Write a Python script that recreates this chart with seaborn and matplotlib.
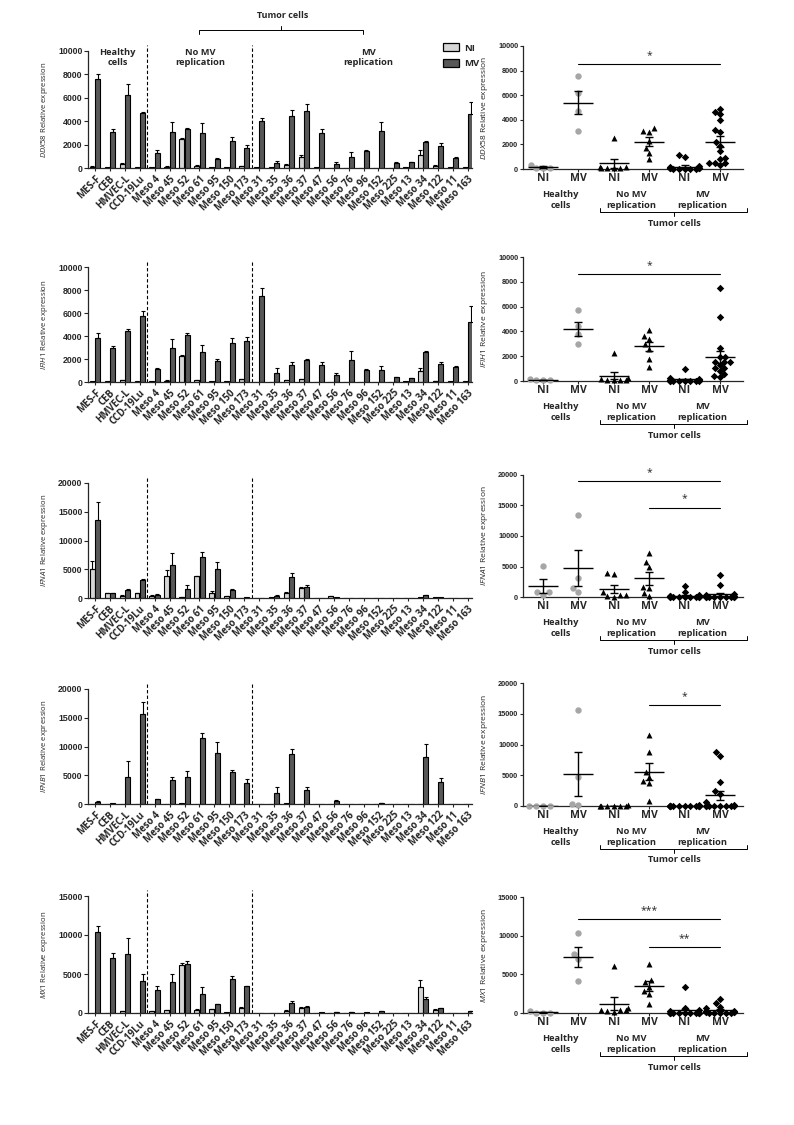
import numpy as np
import pandas as pd
import seaborn as sns
import matplotlib
matplotlib.use('Agg')
from matplotlib import pyplot as plt
from matplotlib import transforms
from matplotlib.patches import Patch

# cell lines, in the order of the bar charts
cell_lines = ['MES-F', 'CEB', 'HMVEC-L', 'CCD-19Lu', 'Meso 4', 'Meso 45', 'Meso 52', 'Meso 61',
              'Meso 95', 'Meso 150', 'Meso 173', 'Meso 31', 'Meso 35', 'Meso 36', 'Meso 37',
              'Meso 47', 'Meso 56', 'Meso 76', 'Meso 96', 'Meso 152', 'Meso 225', 'Meso 13',
              'Meso 34', 'Meso 122', 'Meso 11', 'Meso 163']
cell_group = ['Healthy'] * 4 + ['NoRep'] * 7 + ['Rep'] * 15

genes = ['DDX58', 'IFIH1', 'IFNA1', 'IFNB1', 'MX1']

ddx58_ni = [100, 50, 350, 50, 50, 100, 2500, 200, 100, 50, 150, 50, 50, 250, 950, 50, 30, 30, 30, 30, 30, 100, 1100, 200, 50, 50]
ddx58_ni_err = [30, 0, 50, 0, 0, 30, 100, 50, 0, 0, 50, 0, 0, 80, 150, 0, 0, 0, 0, 0, 0, 0, 400, 50, 0, 0]
ddx58_mv = [7600, 3100, 6200, 4700, 1300, 3100, 3300, 3000, 800, 2300, 1700, 4000, 450, 4450, 4900, 3000, 350, 900, 1450, 3200, 450, 500, 2200, 1900, 850, 4600]
ddx58_mv_err = [400, 200, 1000, 100, 200, 800, 150, 850, 50, 350, 250, 250, 150, 500, 600, 350, 150, 450, 100, 750, 100, 50, 100, 250, 50, 1000]

ifih1_ni = [50, 50, 150, 50, 80, 120, 2250, 150, 100, 50, 250, 30, 30, 150, 250, 30, 30, 30, 30, 30, 30, 100, 950, 100, 50, 50]
ifih1_ni_err = [0, 0, 30, 0, 0, 30, 100, 30, 0, 0, 50, 0, 0, 30, 50, 0, 0, 0, 0, 0, 0, 0, 300, 30, 0, 0]
ifih1_mv = [3800, 3000, 4400, 5700, 1100, 2950, 4100, 2600, 1800, 3350, 3600, 7500, 800, 1500, 1950, 1500, 600, 1900, 1050, 1050, 400, 350, 2650, 1550, 1300, 5200]
ifih1_mv_err = [450, 150, 250, 500, 150, 750, 200, 600, 200, 500, 350, 650, 400, 250, 50, 250, 200, 800, 80, 300, 50, 30, 50, 200, 50, 1400]

ifna1_ni = [5100, 800, 400, 800, 400, 3900, 200, 3800, 900, 300, 50, 0, 100, 900, 1800, 0, 300, 0, 0, 0, 0, 0, 150, 100, 0, 0]
ifna1_ni_err = [1300, 100, 100, 100, 50, 900, 50, 100, 300, 50, 0, 0, 0, 100, 100, 0, 50, 0, 0, 0, 0, 0, 0, 0, 0, 0]
ifna1_mv = [13500, 800, 1400, 3100, 600, 5800, 1600, 7200, 5000, 1400, 100, 0, 400, 3600, 2000, 0, 100, 0, 0, 0, 0, 0, 500, 100, 0, 0]
ifna1_mv_err = [3200, 100, 100, 200, 50, 2000, 600, 800, 1200, 150, 0, 0, 100, 800, 200, 0, 0, 0, 0, 0, 0, 0, 50, 0, 0, 0]

ifnb1_ni = [0, 0, 0, 0, 0, 0, 100, 0, 0, 0, 0, 0, 0, 100, 50, 0, 0, 0, 0, 0, 0, 0, 50, 0, 50, 0]
ifnb1_ni_err = [0] * 26
ifnb1_mv = [400, 100, 4700, 15600, 800, 4100, 4700, 11500, 8800, 5500, 3700, 0, 2000, 8700, 2500, 0, 600, 0, 0, 200, 0, 0, 8100, 3900, 0, 0]
ifnb1_mv_err = [50, 0, 2700, 2200, 100, 600, 1100, 900, 2000, 400, 700, 0, 900, 800, 500, 0, 100, 0, 0, 50, 0, 0, 2300, 700, 0, 0]

mx1_ni = [50, 50, 250, 50, 250, 350, 6100, 400, 450, 150, 650, 0, 0, 300, 700, 0, 0, 50, 50, 0, 0, 50, 3300, 400, 50, 0]
mx1_ni_err = [0, 0, 50, 0, 30, 50, 300, 100, 50, 0, 100, 0, 0, 50, 100, 0, 0, 0, 0, 0, 0, 0, 900, 50, 0, 0]
mx1_mv = [10400, 7000, 7600, 4100, 2900, 4000, 6300, 2400, 1100, 4300, 3400, 50, 50, 1300, 800, 80, 150, 150, 100, 200, 50, 50, 1800, 600, 50, 200]
mx1_mv_err = [800, 700, 2000, 900, 500, 1000, 350, 900, 100, 450, 100, 0, 0, 200, 100, 0, 30, 30, 0, 30, 0, 0, 200, 50, 0, 50]

y_max = [10000, 10000, 20000, 20000, 15000]
y_step = [2000, 2000, 5000, 5000, 5000]

# significance bars on the dot plots: (from slot, to slot, height, stars)
sig_ddx58 = [(1, 5, 8500, '*')]
sig_ifih1 = [(1, 5, 8650, '*')]
sig_ifna1 = [(1, 5, 18950, '*'), (3, 5, 14650, '*')]
sig_ifnb1 = [(3, 5, 16400, '*')]
sig_mx1 = [(1, 5, 12200, '***'), (3, 5, 8500, '**')]

slots = ['Healthy NI', 'Healthy MV', 'NoRep NI', 'NoRep MV', 'Rep NI', 'Rep MV']

data = {
    'DDX58': (ddx58_ni, ddx58_ni_err, ddx58_mv, ddx58_mv_err, sig_ddx58),
    'IFIH1': (ifih1_ni, ifih1_ni_err, ifih1_mv, ifih1_mv_err, sig_ifih1),
    'IFNA1': (ifna1_ni, ifna1_ni_err, ifna1_mv, ifna1_mv_err, sig_ifna1),
    'IFNB1': (ifnb1_ni, ifnb1_ni_err, ifnb1_mv, ifnb1_mv_err, sig_ifnb1),
    'MX1': (mx1_ni, mx1_ni_err, mx1_mv, mx1_mv_err, sig_mx1),
}

sns.set_style('ticks')
plt.rcParams['font.family'] = ['Open Sans', 'DejaVu Sans']
plt.rcParams['mathtext.fontset'] = 'custom'
plt.rcParams['mathtext.it'] = 'Open Sans:italic'
plt.rcParams['mathtext.rm'] = 'Open Sans'
plt.rcParams['axes.linewidth'] = 0.9

W, H = 794, 1125
fig = plt.figure(figsize=(W / 100, H / 100), dpi=100)

left_rows = [(51, 168), (267, 382), (483, 598), (689, 804), (896, 1013)]
right_rows = [(46, 169), (257, 381), (475, 597), (683, 806), (897, 1013)]

ni_col = '#d6d6d6'
mv_col = '#585858'
num_font = dict(family='Liberation Sans', weight='bold')


def fy(px):
    return 1 - px / H


for i, gene in enumerate(genes):
    ni, ni_err, mv, mv_err, sigs = data[gene]

    # ---------- bar chart per cell line ----------
    top, bot = left_rows[i]
    ax = fig.add_axes([88 / W, fy(bot), 384 / W, (bot - top) / H])
    bars = pd.DataFrame({'cell': cell_lines * 2,
                         'cond': ['NI'] * 26 + ['MV'] * 26,
                         'val': ni + mv})
    sns.barplot(data=bars, x='cell', y='val', hue='cond', hue_order=['NI', 'MV'],
                palette={'NI': ni_col, 'MV': mv_col}, edgecolor='black', linewidth=0.8,
                width=0.74, gap=0.1, errorbar=None, legend=False, ax=ax)
    for cont, err in zip(ax.containers, [ni_err, mv_err]):
        for bar, e in zip(cont, err):
            if e > 0:
                ax.errorbar(bar.get_x() + bar.get_width() / 2, bar.get_height(),
                            yerr=[[0], [e]], color='black', lw=0.8, capsize=1.6, capthick=0.8)
    ax.set_xlim(-0.47, 25.27)
    ax.set_ylim(0, y_max[i])
    ax.set_yticks(np.arange(0, y_max[i] + 1, y_step[i]))
    ax.set_yticklabels([str(v) for v in np.arange(0, y_max[i] + 1, y_step[i])], fontsize=6.3, **num_font)
    ax.set_xticks(range(26))
    ax.set_xticklabels(cell_lines, rotation=45, ha='right', rotation_mode='anchor',
                       fontsize=6.9, fontweight='bold')
    ax.tick_params(axis='y', length=3, width=0.8, pad=1)
    ax.tick_params(axis='x', length=2.5, width=0.8, pad=1.5)
    ax.set_xlabel('')
    ax.set_ylabel(r'$\mathit{%s}$ Relative expression' % gene, fontsize=5.6, labelpad=2)
    ax.yaxis.set_label_coords(-0.099, 0.5)
    sns.despine(ax=ax)
    for xv in (3.5, 10.5):
        ax.axvline(xv, ymin=0, ymax=1.05, color='black', lw=0.8, ls=(0, (3, 2)), clip_on=False)

    if i == 0:
        for xc, lab in [(1.5, 'Healthy\ncells'), (7.05, 'No MV\nreplication'), (18.3, 'MV\nreplication')]:
            ax.text(xc, 9450, lab, ha='center', va='center', fontsize=6.7,
                    fontweight='bold', linespacing=1.2)
        tr = transforms.blended_transform_factory(ax.transData, fig.transFigure)
        ax.plot([6.97, 6.97, 17.96, 17.96], [fy(34), fy(29.5), fy(29.5), fy(34)],
                color='black', lw=0.7, transform=tr, clip_on=False)
        ax.plot([12.45, 12.45], [fy(29.5), fy(26)], color='black', lw=0.7,
                transform=tr, clip_on=False)
        ax.text(12.6, fy(15), 'Tumor cells', ha='center', va='center', fontsize=6.5,
                fontweight='bold', transform=tr)
        handles = [Patch(facecolor=ni_col, edgecolor='black', lw=0.9, label='NI'),
                   Patch(facecolor=mv_col, edgecolor='black', lw=0.9, label='MV')]
        fig.legend(handles=handles, loc='upper left', bbox_to_anchor=(434 / W, fy(35)),
                   frameon=False, handlelength=1.7, handleheight=0.9, labelspacing=0.7,
                   handletextpad=0.6, prop=dict(family='Open Sans', weight='bold', size=6.8))

    # ---------- dot plot per group ----------
    top, bot = right_rows[i]
    ax2 = fig.add_axes([523 / W, fy(bot), 220 / W, (bot - top) / H])
    pts = pd.DataFrame({'slot': [g + ' NI' for g in cell_group] + [g + ' MV' for g in cell_group],
                        'val': ni + mv})
    styles = {'Healthy': ('o', '#a6a6a6', 4.6), 'NoRep': ('^', 'black', 4.3), 'Rep': ('D', 'black', 3.8)}
    for grp, (mk, col, sz) in styles.items():
        sub = pts[pts['slot'].str.startswith(grp)]
        sns.swarmplot(data=sub, x='slot', y='val', order=slots, marker=mk, color=col,
                      size=sz, warn_thresh=1, ax=ax2)
    for coll in ax2.collections:
        coll.set_clip_on(False)
    stats = pts.groupby('slot')['val'].agg(['mean', 'sem']).reindex(slots)
    for k, s in enumerate(slots):
        m, se = stats.loc[s, 'mean'], stats.loc[s, 'sem']
        ax2.hlines(m, k - 0.42, k + 0.42, color='black', lw=1.0, zorder=5)
        ax2.errorbar(k, m, yerr=se, color='black', lw=1.0, capsize=3.2, capthick=1.0, zorder=5)
    for x1, x2, yv, star in sigs:
        ax2.plot([x1, x2], [yv, yv], color='black', lw=0.8, clip_on=False)
        ax2.text((x1 + x2) / 2, yv + y_max[i] * 0.025, star, ha='center', va='bottom',
                 fontsize=7.5, clip_on=False)
    ax2.set_xlim(-0.56, 5.65)
    ax2.set_ylim(0, y_max[i])
    ax2.set_yticks(np.arange(0, y_max[i] + 1, y_step[i]))
    ax2.set_yticklabels([str(v) for v in np.arange(0, y_max[i] + 1, y_step[i])], fontsize=5.3, **num_font)
    ax2.set_xticks(range(6))
    ax2.set_xticklabels(['NI', 'MV'] * 3, fontsize=7.6, fontweight='bold')
    ax2.tick_params(axis='y', length=2.5, width=0.8, pad=1)
    ax2.tick_params(axis='x', length=2, width=0.8, pad=1)
    ax2.set_xlabel('')
    ax2.set_ylabel(r'$\mathit{%s}$ Relative expression' % gene, fontsize=6.0)
    ax2.yaxis.set_label_coords(-0.15, 0.5)
    sns.despine(ax=ax2)

    tr2 = transforms.blended_transform_factory(ax2.transData, fig.transFigure)
    for xc, lab in [(0.5, 'Healthy\ncells'), (2.5, 'No MV\nreplication'), (4.5, 'MV\nreplication')]:
        ax2.text(xc, fy(bot + 31), lab, ha='center', va='center', fontsize=6.7,
                 fontweight='bold', linespacing=1.25, transform=tr2)
    ax2.plot([1.6, 1.6, 5.76, 5.76], [fy(bot + 39), fy(bot + 43), fy(bot + 43), fy(bot + 39)],
             color='black', lw=0.7, transform=tr2, clip_on=False)
    ax2.plot([3.7, 3.7], [fy(bot + 43), fy(bot + 47)], color='black', lw=0.7,
             transform=tr2, clip_on=False)
    ax2.text(3.7, fy(bot + 54), 'Tumor cells', ha='center', va='center', fontsize=6.7,
             fontweight='bold', transform=tr2)

fig.savefig('out.png', dpi=100)
